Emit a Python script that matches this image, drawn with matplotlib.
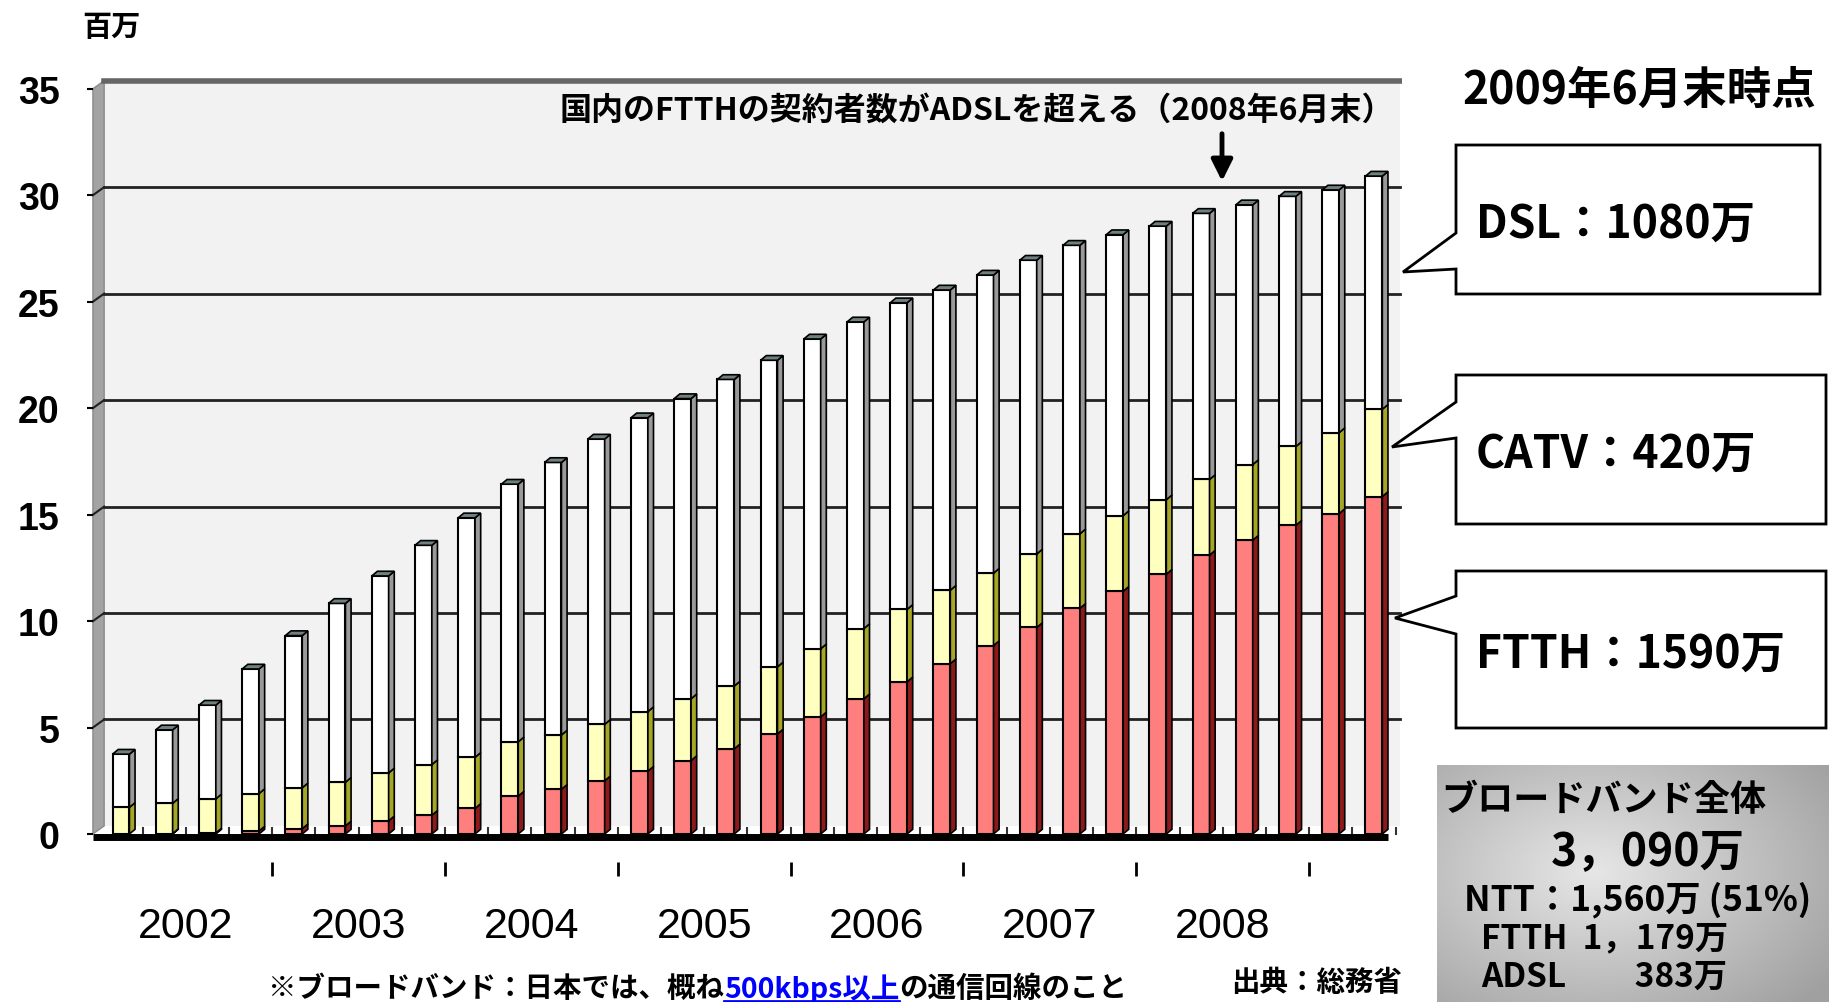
import numpy as np
import matplotlib
matplotlib.use("Agg")
import matplotlib.pyplot as plt
from matplotlib import font_manager
from matplotlib.patches import Polygon, Rectangle
from matplotlib.colors import LinearSegmentedColormap

# subscribers (millions), quarterly Mar 2002 .. Jun 2009
ftth = [0.00, 0.02, 0.05, 0.14, 0.25, 0.38, 0.62, 0.88, 1.20, 1.78, 2.10, 2.50, 2.95, 3.45, 4.00,
        4.70, 5.50, 6.35, 7.15, 8.00, 8.85, 9.70, 10.60, 11.40, 12.20, 13.10, 13.80, 14.50, 15.05, 15.85]
catv = [1.25, 1.42, 1.60, 1.76, 1.92, 2.05, 2.25, 2.38, 2.40, 2.55, 2.55, 2.65, 2.80, 2.90, 2.95,
        3.15, 3.20, 3.30, 3.40, 3.45, 3.40, 3.45, 3.50, 3.55, 3.50, 3.55, 3.55, 3.70, 3.80, 4.10]
dsl = [2.50, 3.45, 4.40, 5.85, 7.15, 8.40, 9.25, 10.30, 11.25, 12.10, 12.80, 13.40, 13.80, 14.10, 14.40,
       14.40, 14.55, 14.40, 14.40, 14.10, 14.00, 13.80, 13.55, 13.20, 12.85, 12.50, 12.20, 11.75, 11.40, 10.95]
years = ["2002", "2003", "2004", "2005", "2006", "2007", "2008"]
y_ticks = [0, 5, 10, 15, 20, 25, 30, 35]

callouts = [("DSL：1080万", (1456, 146, 1820, 295), (234, 270), (1403, 273)),
            ("CATV：420万", (1456, 376, 1826, 525), (403, 439), (1392, 448)),
            ("FTTH：1590万", (1456, 572, 1826, 729), (597, 635), (1395, 619))]

JP = ["Noto Sans CJK JP", "DejaVu Sans"]
names = {f.name for f in font_manager.fontManager.ttflist}
NUM = "Liberation Sans Narrow" if "Liberation Sans Narrow" in names else "Liberation Sans"

W, H = 1829, 1003
fig = plt.figure(figsize=(W / 100, H / 100), dpi=100)


def px_box(l, t, r, b):
    return [l / W, 1 - b / H, (r - l) / W, (b - t) / H]


ax = fig.add_axes(px_box(40, 60, 1402, 850))
ax.set_xlim(-1.875, 29.65)
ax.set_ylim(-0.705, 36.4)

x = np.arange(len(ftth))
ftth_a, catv_a, dsl_a = np.array(ftth), np.array(catv), np.array(dsl)
wall_x0, wall_dx, wall_dy = -0.65, 0.26, 0.38
back_right = 29.6
bar_w, bar_dx, bar_dy = 0.39, 0.13, 0.22
ymax = 35

# walls and grid
ax.add_patch(Rectangle((wall_x0 + wall_dx, wall_dy), back_right - wall_x0 - wall_dx, ymax,
                       facecolor="#f2f2f2", edgecolor="none", zorder=0))
ax.add_patch(Polygon([(wall_x0, 0), (wall_x0 + wall_dx, wall_dy), (wall_x0 + wall_dx, ymax + wall_dy),
                      (wall_x0, ymax)], facecolor="#a3a3a3", edgecolor="#8a8a8a", zorder=1))
for v in y_ticks[1:-1]:
    ax.plot([wall_x0 + wall_dx, back_right], [v + wall_dy] * 2, color="#222222", lw=2, zorder=1)
    ax.plot([wall_x0, wall_x0 + wall_dx], [v, v + wall_dy], color="#222222", lw=1.5, zorder=1)
ax.plot([wall_x0 + wall_dx, back_right], [ymax + wall_dy] * 2, color="#666666", lw=4, zorder=1)
ax.plot([wall_x0 + wall_dx, back_right], [0.12, 0.12], color="white", lw=2, ls=(0, (4, 3)), zorder=1)

# bars: front faces, side faces and top caps
seg_colors = [("#ff7f7f", "#8c1a1a"), ("#ffffc0", "#a6a626"), ("#ffffff", "#999999")]
bottoms = [np.zeros(len(x)), ftth_a, ftth_a + catv_a]
for vals, bot, (front, side) in zip([ftth_a, catv_a, dsl_a], bottoms, seg_colors):
    ax.bar(x, vals, bar_w, bottom=bot, color=front, edgecolor="black", linewidth=1.5, zorder=3)
    for xi, b0, h in zip(x, bot, vals):
        if h <= 0:
            continue
        xr = xi + bar_w / 2
        ax.add_patch(Polygon([(xr, b0), (xr + bar_dx, b0 + bar_dy), (xr + bar_dx, b0 + h + bar_dy), (xr, b0 + h)],
                             facecolor=side, edgecolor="black", lw=1.2, zorder=3))
tops = ftth_a + catv_a + dsl_a
for xi, t in zip(x, tops):
    xl, xr = xi - bar_w / 2, xi + bar_w / 2
    ax.add_patch(Polygon([(xl, t), (xl + bar_dx, t + bar_dy), (xr + bar_dx, t + bar_dy), (xr, t)],
                         facecolor="#6f8080", edgecolor="black", lw=1.2, zorder=3))
for xi in x:
    ax.plot([xi + 0.5, xi + 0.5], [0, 0.3], color="#333333", lw=1.5, zorder=2)
ax.plot([wall_x0, x[-1] + bar_w / 2 + bar_dx], [-0.12, -0.12], color="black", lw=5,
        solid_capstyle="butt", zorder=5)

for s in ax.spines.values():
    s.set_visible(False)
ax.spines["left"].set_position(("data", wall_x0))
ax.set_yticks(y_ticks)
ax.set_yticklabels([str(v) for v in y_ticks], fontsize=27, family=NUM, fontweight="bold")
ax.tick_params(axis="y", length=4, width=1.5, pad=20)
ax.set_xticks([])

for k, yr in enumerate(years):
    ax.text(x[4 * k:4 * k + 4].mean(), -4.3, yr, ha="center", va="center", fontsize=31,
            family=NUM, clip_on=False)
tick_lines = ax.vlines(x[4::4] - 0.5, -1.97, -1.31, color="black", lw=2)
tick_lines.set_clip_on(False)

# overlay in pixel coordinates
ov = fig.add_axes([0, 0, 1, 1], zorder=5)
ov.set_xlim(0, W)
ov.set_ylim(H, 0)
ov.axis("off")
ov.patch.set_alpha(0)

ov.text(82, 27, "百万", family=JP, fontweight="bold", fontsize=21, va="center", ha="left")
ov.text(977, 111, "国内のFTTHの契約者数がADSLを超える（2008年6月末）", family=JP, fontweight="bold",
        fontsize=23, ha="center", va="center")
ov.annotate("", xy=(1222, 185), xytext=(1222, 132),
            arrowprops=dict(arrowstyle="-|>", lw=3.5, color="black", mutation_scale=32))
ov.text(1639, 91, "2009年6月末時点", family=JP, fontweight="bold", fontsize=32, ha="center", va="center")

for label, (l, t, r, b), (ya, yb), tip in callouts:
    ov.add_patch(Polygon([(l, t), (r, t), (r, b), (l, b), (l, yb), tip, (l, ya)],
                         closed=True, facecolor="white", edgecolor="black", lw=2))
    ov.text(l + 20, (t + b) / 2 + 4, label, family=JP, fontweight="bold", fontsize=32, ha="left", va="center")

# gray summary box with gradient
gx, gy = np.meshgrid(np.linspace(0, 1, 200), np.linspace(0, 1, 120))
grad = 1 - np.clip(np.sqrt(((gx - 0.4) / 0.75) ** 2 + ((gy - 0.45) / 0.8) ** 2), 0, 1)
cmap = LinearSegmentedColormap.from_list("g", ["#a0a0a0", "#e6e6e6"])
ov.imshow(grad, extent=(1437, 1829, 1003, 766), cmap=cmap, aspect="auto", zorder=1)
ov.set_xlim(0, W)
ov.set_ylim(H, 0)
ov.text(1441, 801, "ブロードバンド全体", family=JP, fontweight="bold", fontsize=26, va="center", zorder=2)
ov.text(1551, 852, "3，090万", family=JP, fontweight="bold", fontsize=32, va="center", zorder=2)
ov.text(1464, 900, "NTT：1,560万 (51%)", family=JP, fontweight="bold", fontsize=25.5, va="center", zorder=2)
ov.text(1481, 939, "FTTH  1，179万", family=JP, fontweight="bold", fontsize=24, va="center", zorder=2)
ov.text(1481, 977, "ADSL         383万", family=JP, fontweight="bold", fontsize=24, va="center", zorder=2)

t1 = ov.text(268, 989, "※ブロードバンド：日本では、概ね", family=JP, fontweight="bold", fontsize=20.5,
             va="center", ha="left")
t2 = ov.annotate("500kbps以上", xy=(1, 0.5), xycoords=t1, family=JP, fontweight="bold", fontsize=20.5,
                 va="center", ha="left", color="#0000ff")
t3 = ov.annotate("の通信回線のこと", xy=(1, 0.5), xycoords=t2, family=JP, fontweight="bold", fontsize=20.5,
                 va="center", ha="left")
ov.text(1231, 983, "出典：総務省", family=JP, fontweight="bold", fontsize=20.5, va="center", ha="left")

fig.canvas.draw()
bb = t2.get_window_extent(fig.canvas.get_renderer())
inv = ov.transData.inverted()
(ux0, uy0), (ux1, _) = inv.transform([(bb.x0, bb.y0 + 2), (bb.x1, bb.y0 + 2)])
ov.plot([ux0, ux1], [uy0, uy0], color="#0000ff", lw=2)

fig.savefig("out.png", dpi=100)
